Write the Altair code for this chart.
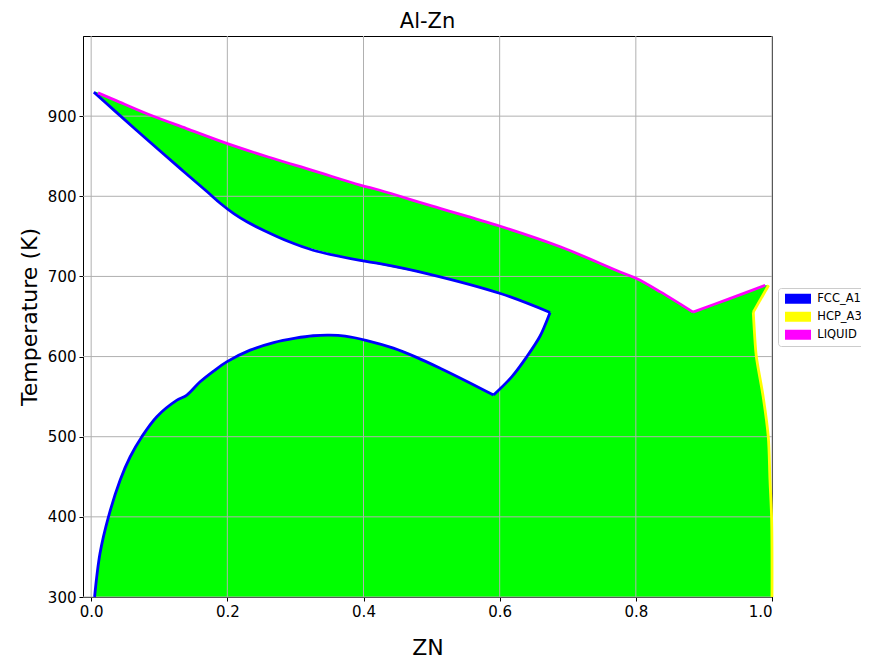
import altair as alt
import pandas as pd

# ---------------- data ----------------
phases = ["FCC_A1", "HCP_A3", "LIQUID"]
phase_colors = ["#0000ff", "#ffff00", "#ff00ff"]

x_ticks = [0.0, 0.2, 0.4, 0.6, 0.8, 1.0]
y_ticks = [300, 400, 500, 600, 700, 800, 900]

# LIQUID boundary (liquidus): Al side, then Zn side
liq_al_x = [0.010, 0.035, 0.082, 0.140, 0.199, 0.260, 0.326, 0.395, 0.424, 0.500, 0.601, 0.689, 0.777, 0.801, 0.836, 0.884]
liq_al_T = [929, 920, 903, 884.5, 866, 849, 832, 814, 807.5, 788, 762.6, 737, 705.6, 697.4, 680.7, 655.5]
liq_zn_x = [0.884, 0.937, 0.990]
liq_zn_T = [655.5, 672, 689]

# FCC_A1 boundary: solidus, FCC/(FCC+HCP) boundary, miscibility-gap dome
sol_x = [0.004, 0.033, 0.082, 0.131, 0.170, 0.190, 0.210, 0.230, 0.253, 0.290, 0.326, 0.395, 0.424, 0.493, 0.601, 0.674]
sol_T = [930, 907.8, 870.8, 834.5, 806, 791, 778, 767.5, 757.6, 743.5, 732.7, 720, 716, 703.6, 678.7, 655]
fccr_x = [0.674, 0.667, 0.659, 0.640, 0.618, 0.591]
fccr_T = [655, 640, 625, 600, 575, 552]
dome_x = [0.591, 0.552, 0.5125, 0.478, 0.444, 0.405, 0.373, 0.350, 0.326, 0.300, 0.268, 0.2335, 0.199, 0.180, 0.160,
          0.1405, 0.126, 0.0964, 0.0744, 0.0573, 0.0426, 0.0254, 0.013, 0.005]
dome_T = [552, 569, 585.5, 599, 610.5, 620, 625.5, 626.7, 626, 623, 617.5, 608, 593.4, 582, 568.5,
          552, 545.6, 525, 500, 475, 446, 400, 354.5, 300]

# HCP_A3 boundary
hcp_top_x = [0.995, 0.9725]
hcp_top_T = [689, 655.5]
hcp_x = [0.9725, 0.975, 0.977, 0.987, 0.9945, 0.997, 0.9995, 1.0]
hcp_T = [655.5, 620, 600, 550, 500, 446, 396, 300]

# two-phase regions (tie lines): temperature, left and right composition
fl_T = [930, 920, 900, 880, 860, 840, 820, 800, 780, 760, 740, 720, 700, 680, 655]
fl_L = [0.004, 0.0166, 0.0423, 0.0688, 0.0958, 0.1234, 0.1508, 0.178, 0.2069, 0.2474, 0.3017, 0.395, 0.5086, 0.5954, 0.674]
fl_R = [0.008, 0.035, 0.091, 0.154, 0.221, 0.297, 0.372, 0.454, 0.532, 0.610, 0.678, 0.736, 0.793, 0.837, 0.885]

lh_T = [655, 672, 689]
lh_L = [0.885, 0.937, 0.990]
lh_R = [0.9725, 0.984, 0.995]

fh_T = [552, 575, 600, 625, 640, 656]
fh_L = [0.591, 0.618, 0.640, 0.659, 0.667, 0.674]
fh_R = [0.987, 0.982, 0.977, 0.9745, 0.973, 0.9725]

gap_T = [552, 560, 570, 580, 590, 600, 610, 618, 624, 626.5]
gap_L = [0.1405, 0.150, 0.1622, 0.177, 0.1933, 0.2146, 0.2408, 0.2709, 0.3087, 0.335]
gap_R = [0.591, 0.5726, 0.5496, 0.5257, 0.501, 0.475, 0.4455, 0.4132, 0.3817, 0.360]

low_T = [300, 325, 355, 400, 446, 475, 500, 525, 546, 553]
low_L = [0.005, 0.009, 0.013, 0.0254, 0.0426, 0.0573, 0.0744, 0.0964, 0.126, 0.141]
low_R = [1.0, 1.0, 1.0, 0.9995, 0.997, 0.996, 0.9945, 0.991, 0.9877, 0.9866]

# ---------------- tables ----------------
fill_rows = []
for name, T, L, R in [("fcc_liq", fl_T, fl_L, fl_R), ("liq_hcp", lh_T, lh_L, lh_R),
                      ("fcc_hcp", fh_T, fh_L, fh_R), ("gap", gap_T, gap_L, gap_R),
                      ("low", low_T, low_L, low_R)]:
    for t, l, r in zip(T, L, R):
        fill_rows.append({"region": name, "T": t, "left": l, "right": r})
fill_df = pd.DataFrame(fill_rows)

line_rows = []
for ph, seg, xs, ts in [("FCC_A1", "sol", sol_x, sol_T), ("FCC_A1", "fccr", fccr_x, fccr_T),
                        ("FCC_A1", "dome", dome_x, dome_T),
                        ("HCP_A3", "hcp_top", hcp_top_x, hcp_top_T), ("HCP_A3", "hcp", hcp_x, hcp_T),
                        ("LIQUID", "liq_al", liq_al_x, liq_al_T), ("LIQUID", "liq_zn", liq_zn_x, liq_zn_T)]:
    for i, (xv, tv) in enumerate(zip(xs, ts)):
        line_rows.append({"phase": ph, "seg": seg, "x": xv, "T": tv, "ord": i})
line_df = pd.DataFrame(line_rows)

xgrid_df = pd.DataFrame({"v": x_ticks})
ygrid_df = pd.DataFrame({"v": y_ticks})

# ---------------- scales / axes ----------------
x_scale = alt.Scale(domain=[-0.012, 1.0], nice=False, zero=False)
y_scale = alt.Scale(domain=[300, 1000], nice=False, zero=False)
x_axis = alt.Axis(values=x_ticks, format=".1f", grid=False, tickSize=4, labelPadding=3,
                  titlePadding=18, title="ZN")
y_axis = alt.Axis(values=y_ticks, format="d", grid=False, tickSize=4, labelPadding=3,
                  titlePadding=6, title="Temperature (K)")


def X(field):
    return alt.X(field, type="quantitative", scale=x_scale, axis=x_axis, title="ZN", stack=None)


def Y(field):
    return alt.Y(field, type="quantitative", scale=y_scale, axis=y_axis, title="Temperature (K)", stack=None)


fill = alt.Chart(fill_df).mark_area(orient="horizontal", color="#00ff00", opacity=1,
                                    interpolate="monotone").encode(
    y=Y("T"), x=X("left"), x2="right:Q", detail="region:N"
)

xgrid = alt.Chart(xgrid_df).mark_rule(color="#b0b0b0", strokeWidth=1).encode(x=X("v"))
ygrid = alt.Chart(ygrid_df).mark_rule(color="#b0b0b0", strokeWidth=1).encode(y=Y("v"))

lines = alt.Chart(line_df).mark_line(strokeJoin="round", interpolate="catmull-rom").encode(
    x=X("x"), y=Y("T"),
    color=alt.Color("phase:N", scale=alt.Scale(domain=phases, range=phase_colors), legend=None),
    detail="seg:N",
    order="ord:Q",
    strokeWidth=alt.value(2.8),
)

rect_path = "M-3.25,-1.25H3.25V1.25H-3.25Z"
legend_pts = alt.Chart(line_df).mark_point(filled=True, shape=rect_path, size=64).encode(
    x=X("x"), y=Y("T"),
    opacity=alt.value(0),
    color=alt.Color("phase:N", scale=alt.Scale(domain=phases, range=phase_colors),
                    legend=alt.Legend(title=None, orient="none", legendX=695, legendY=252,
                                      symbolType=rect_path, symbolSize=64, symbolOpacity=1,
                                      symbolStrokeWidth=0, symbolOffset=9.25,
                                      labelFontSize=11.5, labelFont="DejaVu Sans",
                                      labelColor="black", labelOffset=13.5, padding=5,
                                      rowPadding=5, strokeColor="#cccccc", cornerRadius=3,
                                      fillColor="white")),
)

chart = alt.layer(fill, xgrid, ygrid, lines, legend_pts).resolve_scale(
    color="independent"
).properties(
    width=689, height=561,
    title=alt.Title("Al-Zn", fontSize=21, font="DejaVu Sans", fontWeight="normal",
                    color="black", offset=4, anchor="middle"),
    autosize=alt.AutoSizeParams(type="none"),
    padding={"left": 75, "top": 28, "right": 89, "bottom": 63},
).configure_view(stroke="black", strokeWidth=1).configure_axis(
    labelFont="DejaVu Sans", labelFontSize=15, labelColor="black",
    titleFont="DejaVu Sans", titleFontSize=22, titleFontWeight="normal", titleColor="black",
    domainColor="black", tickColor="black", domainWidth=1, tickWidth=1,
)

chart.save("out.html", embed_options={"renderer": "svg", "actions": False})
